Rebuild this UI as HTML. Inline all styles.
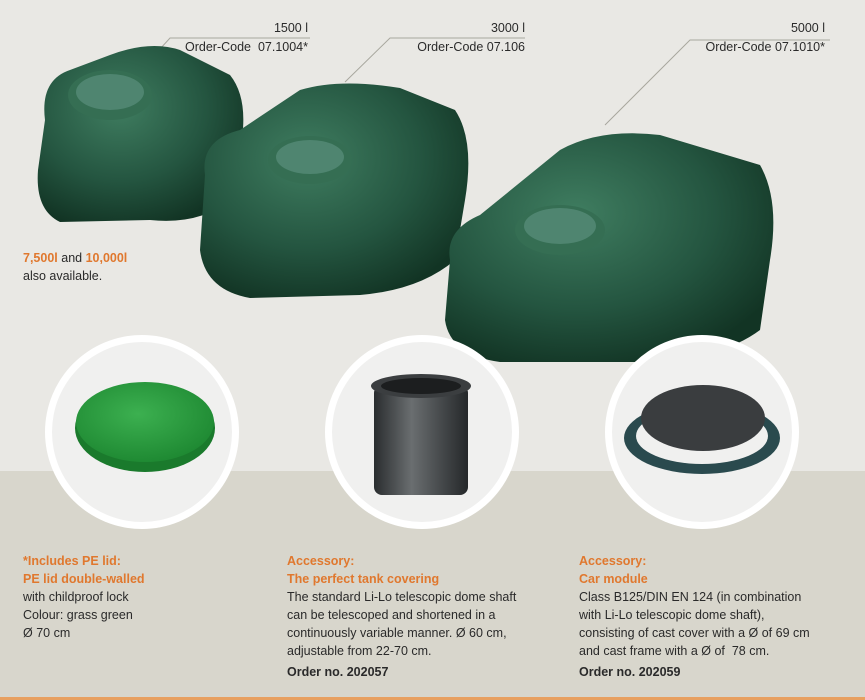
<!DOCTYPE html>
<html><head><meta charset="utf-8"><style>
body{margin:0;width:865px;height:700px;overflow:hidden;background:#e9e8e4;font-family:"Liberation Sans",sans-serif;position:relative}
.bot{position:absolute;left:0;top:471px;width:865px;height:229px;background:#d8d6cc}
.line{position:absolute;left:0;top:697px;width:865px;height:3px;background:#e8a060}
.t{position:absolute;font-size:12.5px;line-height:18px;color:#2a2a2a}
.o{color:#e0782e;font-weight:bold}
.b{font-weight:bold}
.lab{position:absolute;font-size:12.5px;color:#2a2a2a;text-align:right;line-height:19px}
svg{position:absolute;left:0;top:0}
</style></head><body>
<div class="bot"></div>
<div class="line"></div>
<svg width="865" height="700">
<defs>
<radialGradient id="g" cx="40%" cy="35%" r="70%"><stop offset="0" stop-color="#3f7d60"/><stop offset="0.6" stop-color="#245540"/><stop offset="1" stop-color="#123424"/></radialGradient>
<radialGradient id="gl" cx="45%" cy="40%" r="60%"><stop offset="0" stop-color="#3cb050"/><stop offset="1" stop-color="#1f8a33"/></radialGradient>
<linearGradient id="sh" x1="0" x2="1"><stop offset="0" stop-color="#2a2d2f"/><stop offset="0.4" stop-color="#6a6e70"/><stop offset="1" stop-color="#25282a"/></linearGradient>
</defs>
<g stroke="#a8a79e" stroke-width="1" fill="none">
<path d="M310 38H170L150 60"/><path d="M525 38H390L345 82"/><path d="M830 40H690L605 125"/>
</g>
<path d="M45 120 Q40 80 70 70 L110 55 Q150 40 180 50 L230 75 Q250 100 240 150 L230 200 Q200 225 150 220 L60 222 Q35 210 38 170Z" fill="url(#g)"/>
<ellipse cx="110" cy="95" rx="42" ry="25" fill="#356e53"/><ellipse cx="110" cy="92" rx="34" ry="18" fill="#4f8570"/>
<path d="M205 175 Q200 140 240 130 L300 90 Q340 78 400 88 L455 110 Q475 140 465 200 L455 260 Q420 290 360 295 L250 298 Q205 290 200 250Z" fill="url(#g)"/>
<ellipse cx="310" cy="160" rx="42" ry="24" fill="#356e53"/><ellipse cx="310" cy="157" rx="34" ry="17" fill="#4f8570"/>
<path d="M450 260 Q445 230 480 215 L560 150 Q600 128 660 135 L760 165 Q780 200 770 260 L760 330 Q720 360 640 362 L500 362 Q450 355 445 320Z" fill="url(#g)"/>
<ellipse cx="560" cy="230" rx="45" ry="25" fill="#356e53"/><ellipse cx="560" cy="226" rx="36" ry="18" fill="#4f8570"/>
<g>
<circle cx="142" cy="432" r="97" fill="#fff"/><circle cx="142" cy="432" r="90" fill="#f0f0ef"/>
<circle cx="422" cy="432" r="97" fill="#fff"/><circle cx="422" cy="432" r="90" fill="#f0f0ef"/>
<circle cx="702" cy="432" r="97" fill="#fff"/><circle cx="702" cy="432" r="90" fill="#f0f0ef"/>
</g>
<ellipse cx="145" cy="428" rx="70" ry="44" fill="#1a7a2c"/><ellipse cx="145" cy="422" rx="69" ry="40" fill="url(#gl)"/>
<rect x="374" y="385" width="94" height="110" rx="8" fill="url(#sh)"/>
<ellipse cx="421" cy="386" rx="50" ry="12" fill="#3b3e40"/><ellipse cx="421" cy="386" rx="40" ry="8" fill="#1c1e1f"/>
<ellipse cx="702" cy="438" rx="78" ry="36" fill="#2a4a4e"/><ellipse cx="702" cy="436" rx="66" ry="28" fill="#f0f0ef"/>
<ellipse cx="703" cy="418" rx="62" ry="33" fill="#3a3d3f"/>
</svg>
<div class="lab" style="left:150px;top:19px;width:158px">1500 l<br>Order-Code&nbsp; 07.1004*</div>
<div class="lab" style="left:370px;top:19px;width:155px">3000 l<br>Order-Code 07.106</div>
<div class="lab" style="left:660px;top:19px;width:165px">5000 l<br>Order-Code 07.1010*</div>
<div class="t" style="left:23px;top:249px"><span class="o">7,500l</span> and <span class="o">10,000l</span><br>also available.</div>
<div class="t" style="left:23px;top:552px"><span class="o">*Includes PE lid:<br>PE lid double-walled</span><br>with childproof lock<br>Colour: grass green<br>Ø 70 cm</div>
<div class="t" style="left:287px;top:552px"><span class="o">Accessory:<br>The perfect tank covering</span><br>The standard Li-Lo telescopic dome shaft<br>can be telescoped and shortened in a<br>continuously variable manner. Ø 60 cm,<br>adjustable from 22-70 cm.<br><span class="b" style="line-height:24px">Order no. 202057</span></div>
<div class="t" style="left:579px;top:552px"><span class="o">Accessory:<br>Car module</span><br>Class B125/DIN EN 124 (in combination<br>with Li-Lo telescopic dome shaft),<br>consisting of cast cover with a Ø of 69 cm<br>and cast frame with a Ø of&nbsp; 78 cm.<br><span class="b" style="line-height:24px">Order no. 202059</span></div>
</body></html>
